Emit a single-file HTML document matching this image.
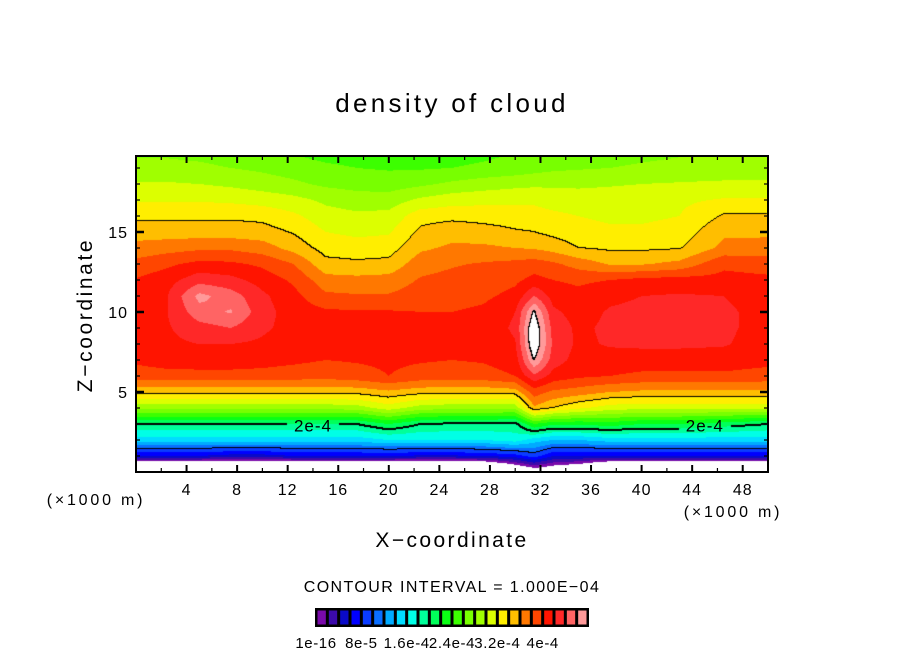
<!DOCTYPE html>
<html><head><meta charset="utf-8"><style>
html,body{margin:0;padding:0;background:#fff;}
#wrap{position:relative;width:904px;height:654px;overflow:hidden;font-family:"Liberation Sans",sans-serif;}
canvas{position:absolute;left:136px;top:156px;}
svg{position:absolute;left:0;top:0;}
</style></head><body>
<div id="wrap">
<canvas id="cv" width="632" height="316"></canvas>
<svg id="sv" width="904" height="654">
<text x="452" y="112" font-size="26" letter-spacing="3.3" text-anchor="middle" font-family="Liberation Sans,sans-serif">density of cloud</text>
<text x="0" y="0" font-size="21" letter-spacing="2.6" text-anchor="middle" transform="translate(92,315) rotate(-90)" font-family="Liberation Sans,sans-serif">Z−coordinate</text>
<text x="452" y="547" font-size="21" letter-spacing="2.4" text-anchor="middle" font-family="Liberation Sans,sans-serif">X−coordinate</text>
<text x="96" y="505" font-size="16" letter-spacing="2.8" text-anchor="middle" font-family="Liberation Sans,sans-serif">(×1000 m)</text>
<text x="733" y="517" font-size="16" letter-spacing="2.8" text-anchor="middle" font-family="Liberation Sans,sans-serif">(×1000 m)</text>
<text x="452" y="592" font-size="16" letter-spacing="1.4" text-anchor="middle" font-family="Liberation Sans,sans-serif">CONTOUR INTERVAL = 1.000E−04</text>
<g id="axes"></g>
<g id="cbar"></g>
</svg>
</div>
<script>
// ---- data ----
const xCoords = [0,2.5,5,7.5,10,12.5,15,17.5,20,22.5,25,27.5,30,31.5,33,35,37.5,40,43,46.5,50]; // ×1000 m
const zCoords = [0,1,2,3,4,5,6,7,8,9,10,11,12,13,14,15,16,17,18,19,20]; // ×1000 m
// density in units of 2e-5
const density = [
[-6,-6,-6,-6,-6,-6,-6,-6,-6,-6,-6,-6,-3,-1.5,-2,-3,-6,-6,-6,-6,-6],
[3,3,3,2.5,2.5,3,3,3,3,2.8,2.8,3,3.5,4.5,3,3,3,3,3,3,3],
[7.5,7.5,7.5,7.5,7.5,7.5,7.5,7.5,8,8,8,8,8.5,7.5,7,7,7.5,7.5,7.5,7.5,7.5],
[10,10,10,10,10,10,10,10,11,10,9.8,9.8,9.6,12,11.2,11.2,11.5,11,11,10.5,10],
[14.3,14.3,14.3,14.3,14.3,14.3,14.3,14.5,15.5,14.5,14.3,14.3,14.3,17.8,17,16.2,15.5,15.3,15.3,15.3,15.3],
[17.3,17.3,17.3,17.3,17.3,17.3,17.3,17.4,17.8,17.4,17.3,17.3,17.5,19.5,18.8,18.5,18,17.8,17.8,17.8,17.8],
[19.5,19.6,19.6,19.6,19.6,19.5,19.4,19.6,20,19.6,19.5,19.6,20,21.8,20.6,20.2,20,19.8,19.8,19.8,19.6],
[20.2,20.5,20.6,20.6,20.4,20.2,20,20.1,20.2,20.1,20,20.1,20.5,24,21.5,20.6,20.6,20.5,20.5,20.5,20.3],
[20.4,20.8,21,21,20.8,20.4,20.2,20.2,20.2,20.2,20.2,20.3,20.9,25,21.8,20.8,21.1,21.2,21.2,21.1,20.5],
[20.5,20.9,21.6,22,21.2,20.6,20.3,20.3,20.3,20.2,20.2,20.3,21.2,25,21.6,20.8,21.2,21.3,21.3,21.2,20.6],
[20.5,21,22.6,23.1,21.4,20.5,20.2,20.1,20.1,20,20,20.2,21,24.2,21.2,20.6,21.1,21.2,21.3,21.2,20.6],
[20.4,21,23.3,22.5,21.2,20.3,19.2,19.1,19.1,19.5,19.6,19.8,20.3,22,20.6,20.3,20.8,21,21.1,21,20.5],
[20.1,20.6,21.6,21.3,20.6,19.8,18.4,18.3,18.4,19.1,19.3,19.5,19.8,20.3,20,19.8,20,20.3,20.4,20.3,20.2],
[19.3,19.8,20.3,20.2,19.8,19,17.3,17.2,17.3,18.6,18.9,19.1,19.3,19.5,19.2,18.6,17.9,17.9,18.3,19.8,19.6],
[18.4,18.6,18.8,18.8,18.5,17.6,16.6,16.4,16.5,17.8,18.2,18.2,18,17.9,17.6,17.0,16.8,16.8,16.9,18.3,18.4],
[17.5,17.5,17.5,17.5,17.4,16.9,16,15.8,15.9,17.2,17.6,17.4,17.1,17,16.7,16.4,16.2,16.2,16.4,17.8,17.8],
[16.8,16.8,16.8,16.8,16.7,16.2,15.4,15.2,15.3,16.6,16.7,16.6,16.5,16.4,16.2,16,15.8,15.8,16,17.1,17.1],
[15.9,15.9,15.9,15.8,15.6,15.3,14.8,14.5,14.5,15.2,15.6,15.7,15.8,15.8,15.6,15.5,15.5,15.6,15.8,16.1,16.1],
[15.1,15.1,15,14.8,14.5,14.2,13.8,13.6,13.5,13.8,14.2,14.5,14.7,14.8,14.8,14.8,14.9,15,15.1,15.2,15.2],
[14.3,14.3,14.2,14,13.8,13.5,13.2,13,12.9,12.9,13,13.2,13.4,13.6,13.8,13.9,14,14.1,14.2,14.3,14.3],
[13.8,13.8,13.7,13.5,13.2,12.9,12.6,12.5,12.4,12.4,12.5,12.7,13,13.2,13.4,13.6,13.7,13.8,13.9,14,14]
];
const levelColors = ["#7a0aaa","#3c0aaa","#0a0ac8","#0000ff","#0a3cff","#0a6eff","#00aaff","#00dcff","#00ffe6","#00ff9a","#00ff5a","#0aff14","#3cff00","#78ff00","#a0ff00","#dcff00","#ffee00","#ffbe00","#ff7800","#ff4600","#ff1400","#ff2828","#ff6464","#ff9a9a"];
const contourLevels = [5,10,17,24];
const thickLevels = [10,24];
const xTicks = [4,8,12,16,20,24,28,32,36,40,44,48];
const yTicks = [5,10,15];
const cbarLabels = ["1e-16","8e-5","1.6e-4","2.4e-4","3.2e-4","4e-4"];
const cbarLabelIdx = [0,4,8,12,16,20];

// ---- axes ----
const PX=136, PY=156, PW=632, PH=316, XMAX=50, ZMAX=19.75;
const sx = x => PX + x/XMAX*PW;
const sy = z => PY + PH - z/ZMAX*PH;

function sample(x,z){
  let i=0; while(i<xCoords.length-2 && x>xCoords[i+1]) i++;
  let j=0; while(j<zCoords.length-2 && z>zCoords[j+1]) j++;
  const tx=(x-xCoords[i])/(xCoords[i+1]-xCoords[i]);
  const tz=(z-zCoords[j])/(zCoords[j+1]-zCoords[j]);
  const a=density[j][i],b=density[j][i+1],c=density[j+1][i],d=density[j+1][i+1];
  return (a*(1-tx)+b*tx)*(1-tz)+(c*(1-tx)+d*tx)*tz;
}
function hex(h){return [parseInt(h.substr(1,2),16),parseInt(h.substr(3,2),16),parseInt(h.substr(5,2),16)];}
const rgb = levelColors.map(hex);

const cv=document.getElementById('cv'), ctx=cv.getContext('2d');
const img=ctx.createImageData(PW,PH);
const V=new Float32Array(PW*PH);
for(let py=0;py<PH;py++)for(let px=0;px<PW;px++){
  V[py*PW+px]=sample((px+0.5)/PW*XMAX, (PH-py-0.5)/PH*ZMAX);
}
for(let py=0;py<PH;py++)for(let px=0;px<PW;px++){
  const v=V[py*PW+px]; const k=(py*PW+px)*4;
  let c=[255,255,255];
  if(v>=0 && v<24) c=rgb[Math.min(23,Math.floor(v))];
  img.data[k]=c[0];img.data[k+1]=c[1];img.data[k+2]=c[2];img.data[k+3]=255;
}
const line=new Uint8Array(PW*PH);
for(let py=0;py<PH-1;py++)for(let px=0;px<PW-1;px++){
  const v=V[py*PW+px], r=V[py*PW+px+1], d=V[(py+1)*PW+px];
  contourLevels.forEach(L=>{
    if((v<L)!==(r<L)||(v<L)!==(d<L)){
      const thick=thickLevels.includes(L);
      line[py*PW+px]=1;
      if(thick){line[(py+1)*PW+px]=1;}
    }
  });
}
const labelSpots=[[14,2.9],[45,2.9]];
for(let py=0;py<PH;py++)for(let px=0;px<PW;px++){
  if(line[py*PW+px]){
    let gap=false;
    labelSpots.forEach(s=>{const gx=sx(s[0])-PX, gy=sy(s[1])-PY; if(Math.abs(px-gx)<26&&Math.abs(py-gy)<9) gap=true;});
    if(gap) continue;
    const k=(py*PW+px)*4; img.data[k]=0;img.data[k+1]=0;img.data[k+2]=0;
  }
}
ctx.putImageData(img,0,0);

const NS="http://www.w3.org/2000/svg";
const ax=document.getElementById('axes');
function mk(tag,attrs,parent){const e=document.createElementNS(NS,tag);for(const k in attrs)e.setAttribute(k,attrs[k]);parent.appendChild(e);return e;}
labelSpots.forEach(s=>{
  const t=mk('text',{x:sx(s[0]),y:sy(s[1])+6,'font-size':17,'letter-spacing':1,'text-anchor':'middle','font-family':'Liberation Sans,sans-serif'},ax);
  t.textContent='2e-4';
  
  
});
const frame=mk('rect',{x:PX,y:PY,width:PW,height:PH,fill:'none',stroke:'#000','stroke-width':2},ax);


for(let x=2;x<50;x+=2){
  const maj = xTicks.includes(x); const L=maj?7:4;
  mk('line',{x1:sx(x),x2:sx(x),y1:PY+PH,y2:PY+PH-L,stroke:'#000','stroke-width':maj?2:1.2},ax);
  mk('line',{x1:sx(x),x2:sx(x),y1:PY,y2:PY+L,stroke:'#000','stroke-width':maj?2:1.2},ax);
}
xTicks.forEach(x=>{
  const t=mk('text',{x:sx(x),y:PY+PH+23,'font-size':16,'letter-spacing':1,'text-anchor':'middle','font-family':'Liberation Sans,sans-serif'},ax);
  t.textContent=String(x);
  
  
});
for(let z=1;z<20;z++){
  const maj=yTicks.includes(z); const L=maj?8:4;
  mk('line',{x1:PX,x2:PX+L,y1:sy(z),y2:sy(z),stroke:'#000','stroke-width':maj?2.5:1.2},ax);
  mk('line',{x1:PX+PW,x2:PX+PW-L,y1:sy(z),y2:sy(z),stroke:'#000','stroke-width':maj?2.5:1.2},ax);
}
yTicks.forEach(z=>{
  const t=mk('text',{x:PX-8,y:sy(z)+6,'font-size':16,'letter-spacing':1,'text-anchor':'end','font-family':'Liberation Sans,sans-serif'},ax);
  t.textContent=String(z);
  
  
});
const cb=document.getElementById('cbar');
const CX=316, CY=609, CW=272, CH=17, bw=CW/levelColors.length;
mk('rect',{x:CX-1,y:CY-1,width:CW+2,height:CH+2,fill:'#000'},cb);
levelColors.forEach((c,i)=>{
  const r=mk('rect',{x:CX+i*bw+1.5,y:CY+1.5,width:bw-3,height:CH-3,fill:c},cb);
  
  
});
cbarLabels.forEach((s,i)=>{
  const t=mk('text',{x:CX+cbarLabelIdx[i]*bw,y:648,'font-size':15,'letter-spacing':0.6,'text-anchor':'middle','font-family':'Liberation Sans,sans-serif'},cb);
  t.textContent=s;
  
  
});
</script>
</body></html>
